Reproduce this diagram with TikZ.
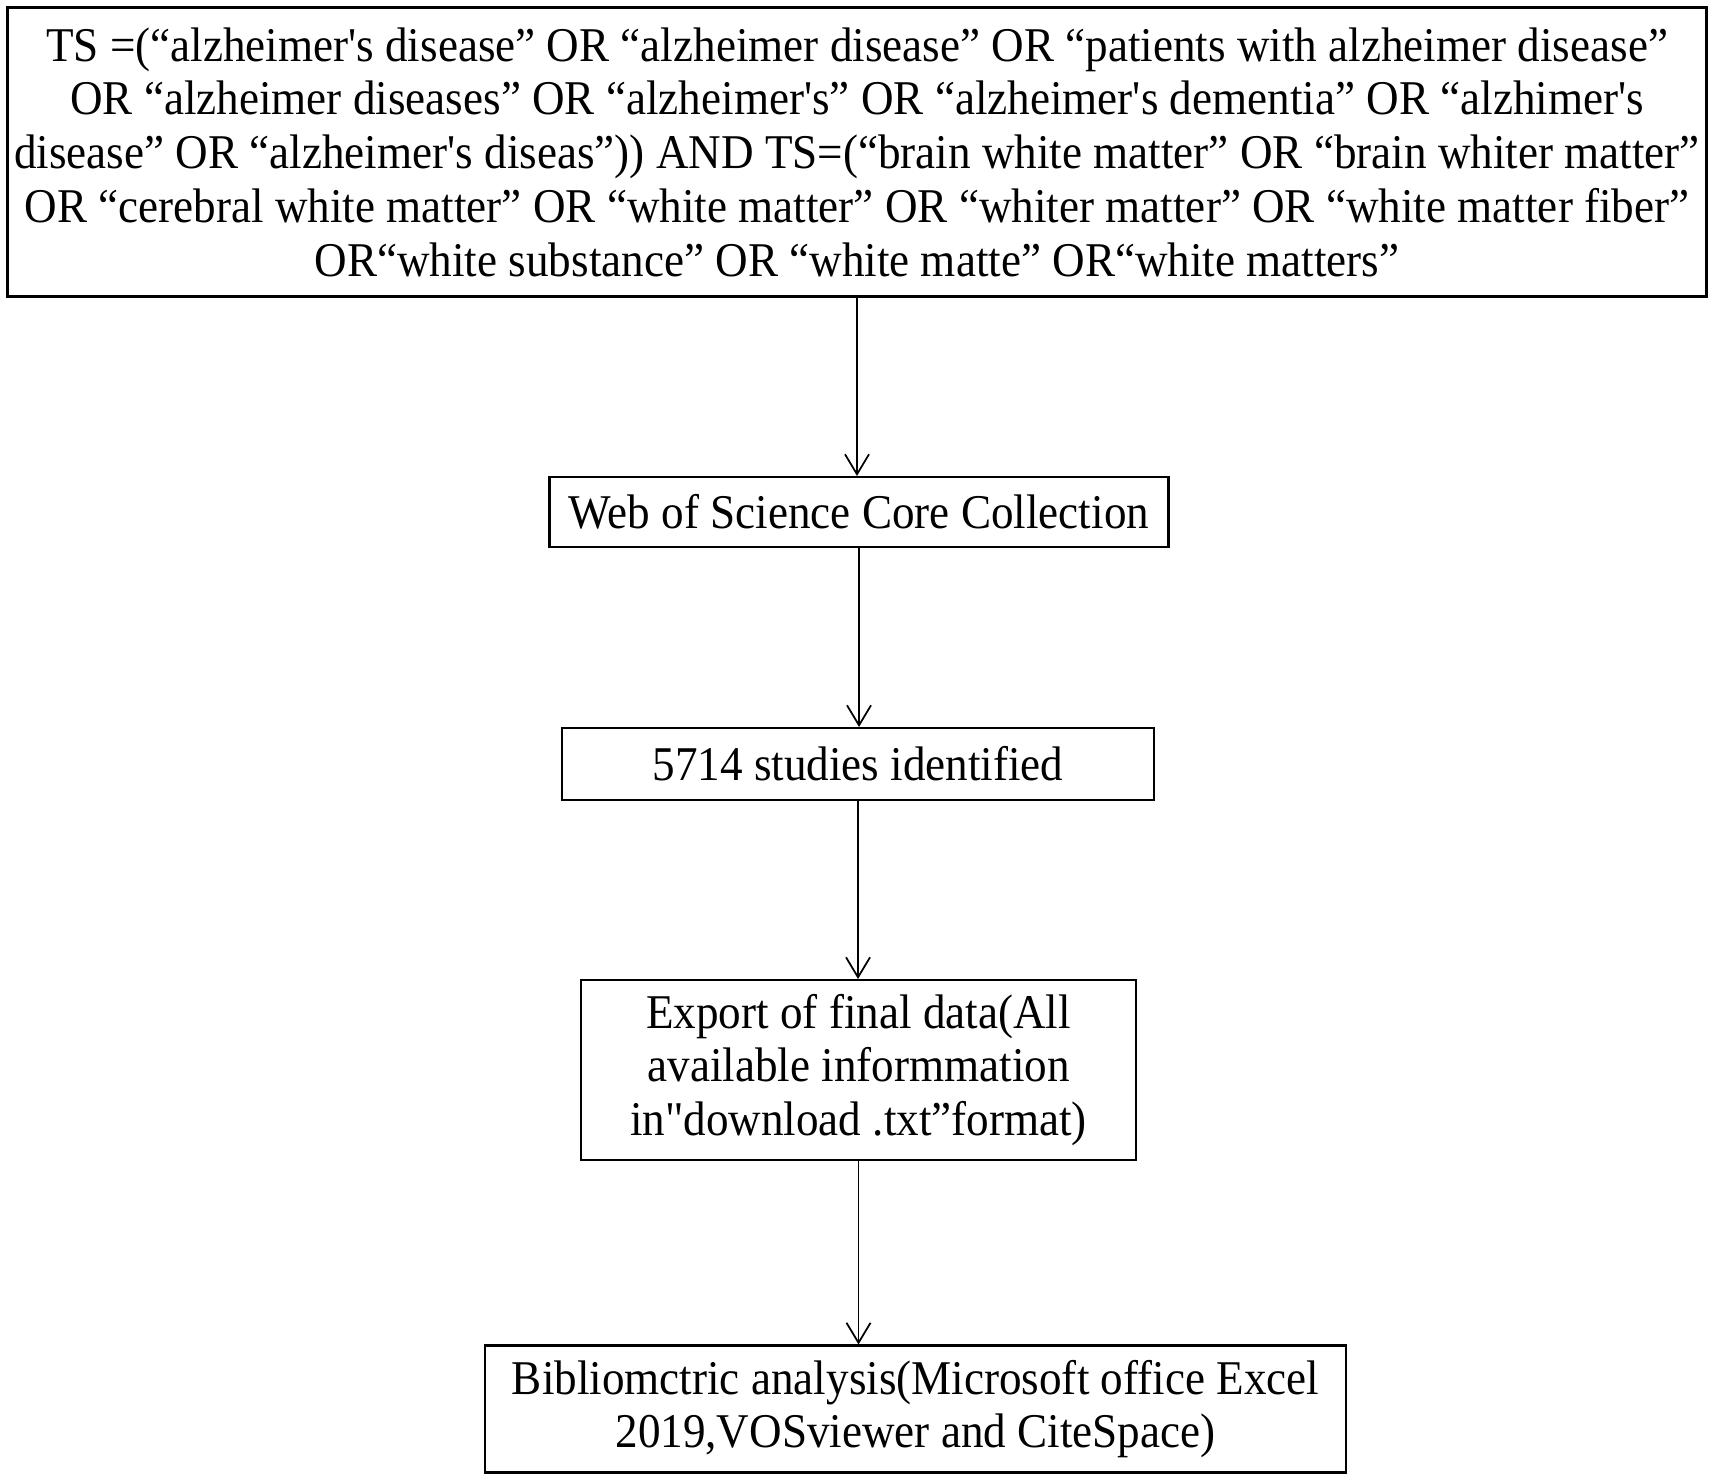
\documentclass[tikz,border=0pt]{standalone}
\usepackage{fontspec}
\newfontfamily\tnr{Liberation Serif}[FakeStretch=0.93]
\usetikzlibrary{arrows.meta}

\begin{document}
\begin{tikzpicture}[
        box/.style={draw, line width=0.6pt, inner sep=0pt, align=center,
                font=\tnr\fontsize{13.8}{15.3}\selectfont},
        flow/.style={line width=0.5pt, -{Straight Barb[length=2mm,width=2.4mm]}}]
        \useasboundingbox (0,0) rectangle (17.13,-14.80);
        % search query
        \node[box, minimum width=16.99cm, minimum height=2.89cm] (query) at (8.57,-1.52)
        {TS =(“alzheimer's disease” OR “alzheimer disease” OR “patients with alzheimer disease”\\
        OR “alzheimer diseases” OR “alzheimer's” OR “alzheimer's dementia” OR “alzhimer's\\
        disease” OR “alzheimer's diseas”)) AND TS=(“brain white matter” OR “brain whiter matter”\\
        OR “cerebral white matter” OR “white matter” OR “whiter matter” OR “white matter fiber”\\
        OR“white substance” OR “white matte” OR“white matters”};
        \node[box, minimum width=6.19cm, minimum height=0.70cm] (wos) at (8.59,-5.12)
        {Web of Science Core Collection};
        \node[box, minimum width=5.92cm, minimum height=0.72cm] (ids) at (8.58,-7.64)
        {5714 studies identified};
        \node[box, minimum width=5.55cm, minimum height=1.80cm] (export) at (8.585,-10.70)
        {Export of final data(All\\ available informmation\\ in"download .txt”format)};
        \node[box, minimum width=8.61cm, minimum height=1.27cm] (biblio) at (9.155,-14.09)
        {Bibliomctric analysis(Microsoft office Excel\\ 2019,VOSviewer and CiteSpace)};
        \foreach \a/\b in {query/wos,wos/ids,ids/export,export/biblio}
        \draw[flow] (\a.south) -- (\a.south |- \b.north);
\end{tikzpicture}
\end{document}
